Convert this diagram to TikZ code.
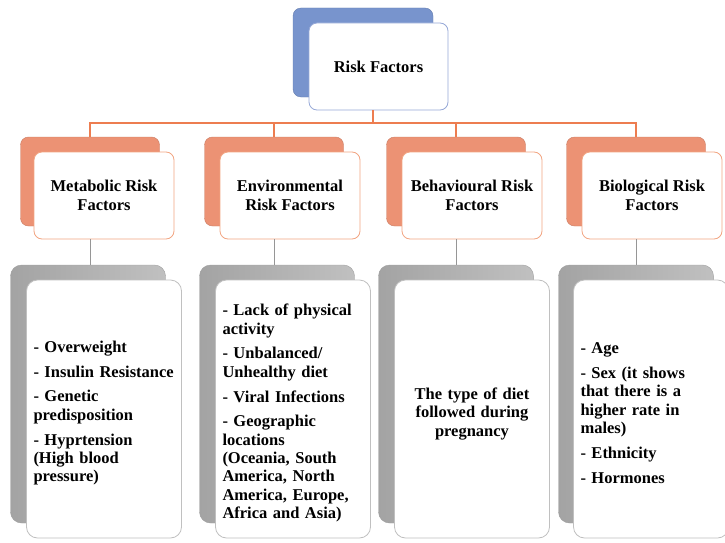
\documentclass[tikz,border=0pt]{standalone}
\usepackage{fontspec}
\setmainfont{Liberation Serif}
\definecolor{topblue}{RGB}{120,148,205}
\definecolor{topedge}{RGB}{150,168,215}
\definecolor{salmon}{RGB}{236,146,116}
\definecolor{salmonedge}{RGB}{242,165,130}
\definecolor{busline}{RGB}{237,125,80}
\definecolor{shade}{RGB}{192,192,192}
\definecolor{shadeedge}{RGB}{160,160,160}
\definecolor{stemline}{RGB}{150,150,150}
\tikzset{
  txt/.style={font=\bfseries\fontsize{16.5}{18.3}\selectfont},
  rootback/.style={rectangle,rounded corners=8pt,fill=topblue,draw=topblue!85!black,minimum width=140pt,minimum height=89pt},
  rootfront/.style={rectangle,rounded corners=8pt,fill=white,draw=topedge,line width=0.8pt,minimum width=139pt,minimum height=87pt,txt},
  catback/.style={rectangle,rounded corners=8pt,fill=salmon,draw=salmon!85!black,minimum width=139pt,minimum height=89pt},
  catfront/.style={rectangle,rounded corners=8pt,fill=white,draw=salmonedge,line width=0.8pt,minimum width=140pt,minimum height=87pt,align=center,txt},
  listback/.style={rectangle,rounded corners=11pt,left color=shade!85!black,right color=shade,draw=shadeedge,minimum width=155pt,minimum height=258pt},
  listfront/.style={rectangle,rounded corners=11pt,fill=white,draw=shade,line width=0.8pt,minimum width=155pt,minimum height=258pt},
  listtext/.style={text width=141pt,inner sep=0pt,align=left,txt},
  orangelink/.style={draw=busline,line width=1.2pt},
  graylink/.style={draw=stemline,line width=0.8pt}
}
\begin{document}
\begin{tikzpicture}[x=1pt,y=-1pt]
  \useasboundingbox (0,0) rectangle (725,543);

  % top box
  \node[rootback] (riskB) at (363,52.5) {};
  \node[rootfront] (risk) at (378.5,66.5) {Risk Factors};

  % second row
  \node[catback] (metB) at (90,181.5) {};
  \node[catback] (envB) at (274,181.5) {};
  \node[catback] (behB) at (456,181.5) {};
  \node[catback] (bioB) at (636,181.5) {};
  \node[catfront] (met) at (104,195.5) {Metabolic Risk\\Factors};
  \node[catfront] (env) at (290,195.5) {Environmental\\Risk Factors};
  \node[catfront] (beh) at (472,195.5) {Behavioural Risk\\Factors};
  \node[catfront] (bio) at (652,195.5) {Biological Risk\\Factors};

  % third row
  \node[listback] (metLB) at (88,394) {};
  \node[listback] (envLB) at (277,394) {};
  \node[listback] (behLB) at (456,394) {};
  \node[listback] (bioLB) at (636,394) {};
  \node[listfront] (metL) at (104,409) {};
  \node[listfront] (envL) at (293,409) {};
  \node[listfront] (behL) at (472,409) {};
  \node[listfront] (bioL) at (651,409) {};

  \node[listtext] (metT) at ([yshift=-4pt]metL.center) {- Overweight\\[6.5pt]- Insulin Resistance\\[6.5pt]- Genetic\\predisposition\\[6.5pt]- Hyprtension\\(High blood\\pressure)};
  \node[listtext] (envT) at ([yshift=-4pt]envL.center) {- Lack of physical\\activity\\[6.5pt]- Unbalanced/\\Unhealthy diet\\[6.5pt]- Viral Infections\\[6.5pt]- Geographic\\locations\\(Oceania, South\\America, North\\America, Europe,\\Africa and Asia)};
  \node[listtext,align=center] (behT) at ([yshift=-5pt]behL.center) {The type of diet\\followed during\\pregnancy};
  \node[listtext] (bioT) at ([yshift=-4pt]bioL.center) {- Age\\[6.5pt]- Sex (it shows\\that there is a\\higher rate in\\males)\\[6.5pt]- Ethnicity\\[6.5pt]- Hormones};

  % connectors
  \coordinate (bus) at (373,123);
  \draw[orangelink] (bus |- risk.south) -- (bus);
  \draw[orangelink] (bus) -| (metB.north);
  \draw[orangelink] (bus) -| (envB.north);
  \draw[orangelink] (bus) -| (behB.north);
  \draw[orangelink] (bus) -| (bioB.north);

  \draw[graylink] (metB.south |- met.south) -- (metB.south |- metLB.north);
  \draw[graylink] (envB.south |- env.south) -- (envB.south |- envLB.north);
  \draw[graylink] (behB.south |- beh.south) -- (behB.south |- behLB.north);
  \draw[graylink] (bioB.south |- bio.south) -- (bioB.south |- bioLB.north);
\end{tikzpicture}
\end{document}
